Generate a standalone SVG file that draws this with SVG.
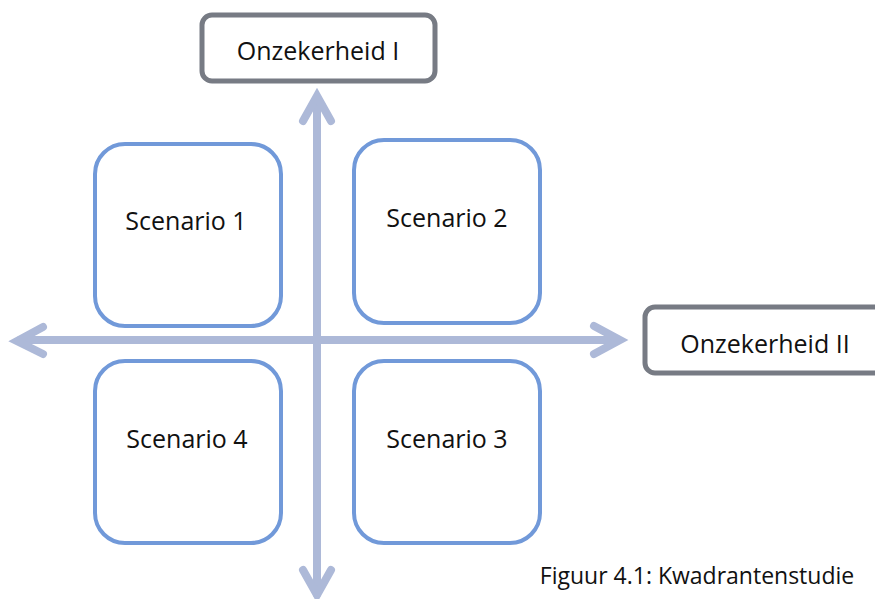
<svg xmlns="http://www.w3.org/2000/svg" width="875" height="599" viewBox="0 0 875 599">
  <style>
    .axis { fill: none; stroke: #adb9d8; stroke-width: 8; stroke-linecap: round; stroke-linejoin: miter; }
    .scen { fill: #ffffff; stroke: #7199d9; stroke-width: 4; }
    .unc { fill: #ffffff; stroke: #777b84; stroke-width: 5; }
    text { font-family: "Open Sans", "Noto Sans", sans-serif; font-size: 25px; fill: #111111; text-anchor: middle; }
    .caption { font-size: 23px; }
  </style>
  <rect width="875" height="599" fill="#ffffff"/>

  <!-- scenario quadrants -->
  <g id="scenario-1">
    <rect class="scen" x="95" y="144" width="186" height="182" rx="30"/>
    <text x="186" y="230">Scenario 1</text>
  </g>
  <g id="scenario-2">
    <rect class="scen" x="354" y="140" width="186" height="183" rx="30"/>
    <text x="447" y="227">Scenario 2</text>
  </g>
  <g id="scenario-4">
    <rect class="scen" x="95" y="361" width="186" height="182" rx="30"/>
    <text x="187" y="448">Scenario 4</text>
  </g>
  <g id="scenario-3">
    <rect class="scen" x="354" y="361" width="186" height="182" rx="30"/>
    <text x="447" y="448">Scenario 3</text>
  </g>

  <!-- axes -->
  <g id="connectors">
    <line class="axis" x1="20" y1="340" x2="618" y2="340"/>
    <polyline class="axis" points="43,327 17,341 43,354"/>
    <polyline class="axis" points="594,326 620,340 594,354"/>
    <line class="axis" x1="317" y1="98" x2="317" y2="594"/>
    <polyline class="axis" points="303,121 317,96 331,121"/>
    <polyline class="axis" points="303,570 317,595 331,570"/>
  </g>

  <!-- uncertainty labels -->
  <g id="onzekerheid-1">
    <rect class="unc" x="202" y="15" width="233" height="66" rx="10"/>
    <text x="318" y="60">Onzekerheid I</text>
  </g>
  <g id="onzekerheid-2">
    <rect class="unc" x="645" y="307" width="240" height="66" rx="10"/>
    <text x="765" y="353">Onzekerheid II</text>
  </g>

  <text id="caption" class="caption" x="697" y="584">Figuur 4.1: Kwadrantenstudie</text>
</svg>
